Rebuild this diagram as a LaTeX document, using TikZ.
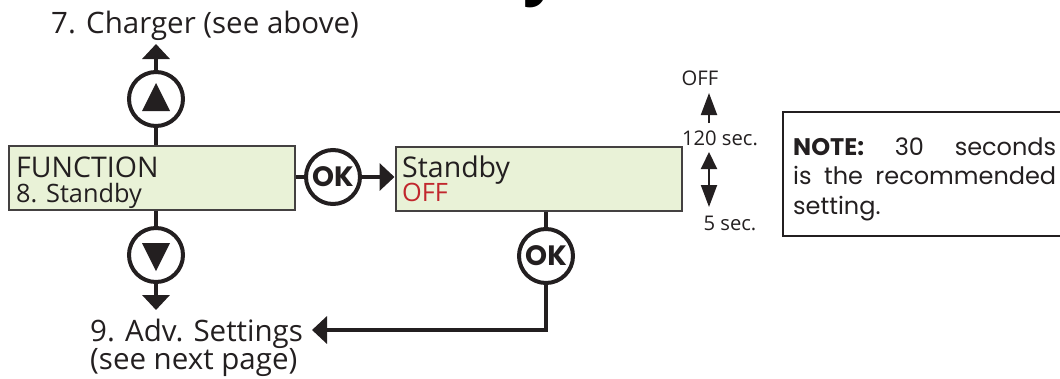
\documentclass[tikz,border=0pt]{standalone}
\usepackage{fontspec}
\setmainfont{Open Sans}
\newfontfamily\notefont{Poppins}
\usetikzlibrary{arrows.meta,positioning}
\definecolor{lcd}{HTML}{E9F2D7}
\definecolor{ink}{HTML}{231F20}
\definecolor{piros}{HTML}{C1272D}
\tikzset{
  screen/.style={draw=ink!85,line width=2pt,fill=lcd,minimum width=286pt,minimum height=64pt,inner sep=0pt},
  knob/.style={circle,draw=ink,line width=4pt,fill=white,minimum size=54pt,inner sep=0pt},
  wire/.style={draw=ink,line width=4pt},
  arr/.style={-{Triangle[length=15pt,width=27pt]}},
  thin/.style={draw=ink,line width=2pt},
  sarr/.style={-{Triangle[length=22pt,width=16pt]}},
  big/.style={font=\fontsize{29.5}{31}\selectfont,text=ink,inner sep=0pt},
  line1/.style={font=\fontsize{28.5}{30}\selectfont,text=ink,inner sep=0pt},
  line2/.style={font=\fontsize{25.3}{27}\selectfont,text=ink,inner sep=0pt},
  small/.style={font=\fontsize{20.2}{22}\selectfont,text=ink,inner sep=0pt},
  oklbl/.style={font=\notefont\bfseries\fontsize{28}{28}\selectfont,text=ink},
}
\begin{document}
\begin{tikzpicture}[x=1pt,y=-1pt]
  \useasboundingbox (0,0) rectangle (1060,378);
  % title, cut off by the page edge
  \begin{scope}
    \clip (0,0) rectangle (1060,378);
    \node[font=\bfseries\fontsize{64}{64}\selectfont,anchor=base east,inner sep=0pt] (ttl) at (560,-8) {Standby};
  \end{scope}
  % displays
  \node[screen] (d1) at (152,178) {};
  \node[screen] (d2) at (538.5,178.5) {};
  \node[line1,anchor=base west] (fn) at (16,177) {FUNCTION};
  \node[line2,anchor=base west] (fn8) at (16,202) {8. Standby};
  \node[line1,anchor=base west] (sb) at (402,177) {Standby};
  \node[line2,anchor=base west,text=piros] (sboff) at (402,201) {OFF};
  % buttons
  \node[knob] (up) at (156,99) {};
  \fill[ink] (142,111) -- (170,111) -- (156,83) -- cycle;
  \node[knob] (dn) at (156,255) {};
  \fill[ink] (142,243) -- (170,243) -- (156,271) -- cycle;
  \node[knob] (ok1) at (333,177) {};
  \node[oklbl] at (ok1) {OK};
  \node[knob] (ok2) at (546,256) {};
  \node[oklbl] at (ok2) {OK};
  % menu items
  \node[big,anchor=base] (chg) at (205,33) {7. Charger (see above)};
  \node[big,anchor=base west,align=left] (adv) at (90,369) {9. Adv. Settings\\[-3pt](see next page)};
  \coordinate (t7) at (156,44);
  \coordinate (t9a) at (156,310);
  \coordinate (t9) at (312,330);
  % connectors
  \draw[wire] (up.south) -- (up.south |- d1.north);
  \draw[wire,arr] (up.north) -- (t7);
  \draw[wire] (d1.south -| dn) -- (dn.north);
  \draw[wire,arr] (dn.south) -- (t9a);
  \draw[wire] (d1.east |- ok1) -- (ok1.west);
  \draw[wire,arr] (ok1.east) -- (ok1 -| d2.west);
  \draw[wire] (d2.south -| ok2) -- (ok2.north);
  \draw[wire,arr] (ok2.south) |- (t9);
  % range of values
  \node[small,anchor=base] (off) at (700,85) {OFF};
  \node[small,anchor=base] (s120) at (720,145) {120 sec.};
  \node[small,anchor=base] (s5) at (730,230) {5 sec.};
  \coordinate (a1) at (709,123);
  \coordinate (a2) at (709,93);
  \coordinate (b1) at (709,152);
  \coordinate (b2) at (709,207);
  \draw[thin,sarr] (a1) -- (a2);
  \draw[thin,{Triangle[length=17pt,width=16pt]}-{Triangle[length=22pt,width=16pt]}] (b1) -- (b2);
  % note
  \node[draw=ink,line width=2pt,anchor=north west,minimum width=300pt,minimum height=124pt] (note) at (782,111) {};
  \node[anchor=base west,inner sep=0pt,text width=263pt,align=justify,
        font=\notefont\fontsize{24}{29.5}\selectfont,text=ink]
    (notetxt) at (793,155) {\textbf{NOTE:} 30 seconds\linebreak is the recommended\linebreak setting.};
\end{tikzpicture}
\end{document}
